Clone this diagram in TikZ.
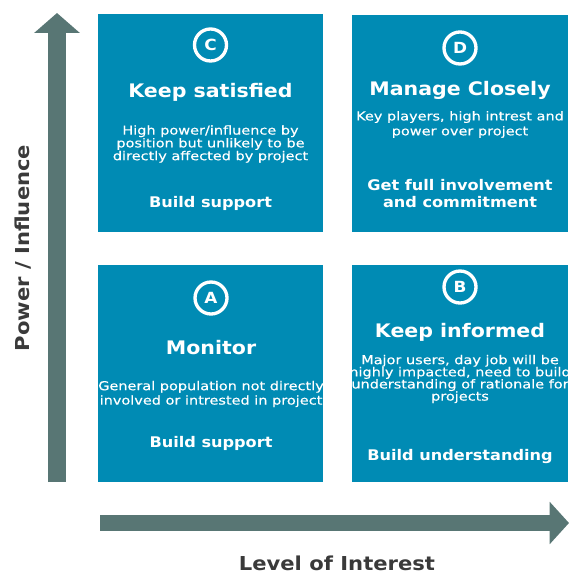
\documentclass[tikz,border=0pt]{standalone}
\usepackage{fontspec}
\setmainfont{DejaVu Sans}
\newfontfamily\bodyfont[FakeStretch=1.18, FakeBold=0.3]{DejaVu Sans}
\newfontfamily\headfont[FakeStretch=1.1]{DejaVu Sans}
\usetikzlibrary{arrows.meta}
\definecolor{boxblue}{RGB}{0,139,180}
\definecolor{axisgray}{RGB}{88,118,116}
\definecolor{labelgray}{RGB}{58,58,58}

\begin{document}
\begin{tikzpicture}[x=0.75pt, y=-0.75pt,
  quad/.style={fill=boxblue, draw=none, inner sep=0pt},
  ring/.style={circle, draw=white, line width=2.5pt, minimum size=24pt, inner sep=0pt,
    text=white, font=\headfont\bfseries\fontsize{11.5}{11.5}\selectfont},
  title/.style={text=white, font=\headfont\bfseries\fontsize{14}{16}\selectfont},
  body/.style={text=white, align=center, font=\bodyfont\fontsize{9.2}{#1}\selectfont},
  body/.default=9.6,
  action/.style={text=white, align=center, font=\headfont\bfseries\fontsize{11}{12.8}\selectfont},
  axislabel/.style={text=labelgray, font=\headfont\bfseries\fontsize{14.4}{16}\selectfont}]
\useasboundingbox (0,0) rectangle (570,574);

% 坐标轴
\coordinate (ybot) at (57,482);
\coordinate (ytop) at (57,13);
\coordinate (xleft) at (100,523);
\coordinate (xright) at (569,523);
\draw[axisgray, line width=14pt, -{Triangle[width=33.5pt, length=15pt]}] (ybot) -- (ytop);
\draw[axisgray, line width=12pt, -{Triangle[width=31pt, length=14.5pt]}] (xleft) -- (xright);
\node[axislabel, rotate=90] (ylab) at (23,248) {Power / Influence};
\node[axislabel] (xlab) at (337,563) {Level of Interest};

% 四个象限
\node[quad, minimum width=168.75pt, minimum height=163.5pt] (boxC) at (210.5,123) {};
\node[quad, minimum width=162pt, minimum height=162.75pt] (boxD) at (460,123.5) {};
\node[quad, minimum width=168.75pt, minimum height=162.75pt] (boxA) at (210.5,373.5) {};
\node[quad, minimum width=162pt, minimum height=162.75pt] (boxB) at (460,373.5) {};

% C
\node[ring] (ringC) at (210.5,45) {C};
\node[title] (titleC) at (210.5,92) {Keep satisfied};
\node[body] (bodyC) at (210.5,144) {High power/influence by\\position but unlikely to be\\directly affected by project};
\node[action] (actC) at (210.5,203) {Build support};

% D
\node[ring] (ringD) at (460,48) {D};
\node[title] (titleD) at (460,90) {Manage Closely};
\node[body=11.2] (bodyD) at (460,124.5) {Key players, high intrest and\\power over project};
\node[action] (actD) at (460,193.5) {Get full involvement\\and commitment};

% A
\node[ring] (ringA) at (211,298) {A};
\node[title] (titleA) at (211,348) {Monitor};
\node[body=10.8] (bodyA) at (211,394) {General population not directly\\involved or intrested in project};
\node[action] (actA) at (211,443) {Build support};

% B
\node[ring] (ringB) at (460,287) {B};
\node[title] (titleB) at (460,332) {Keep informed};
\node[body=9.1] (bodyB) at (460,379) {Major users, day job will be\\highly impacted, need to build\\understanding of rationale for\\projects};
\node[action] (actB) at (460,457) {Build understanding};
\end{tikzpicture}
\end{document}
